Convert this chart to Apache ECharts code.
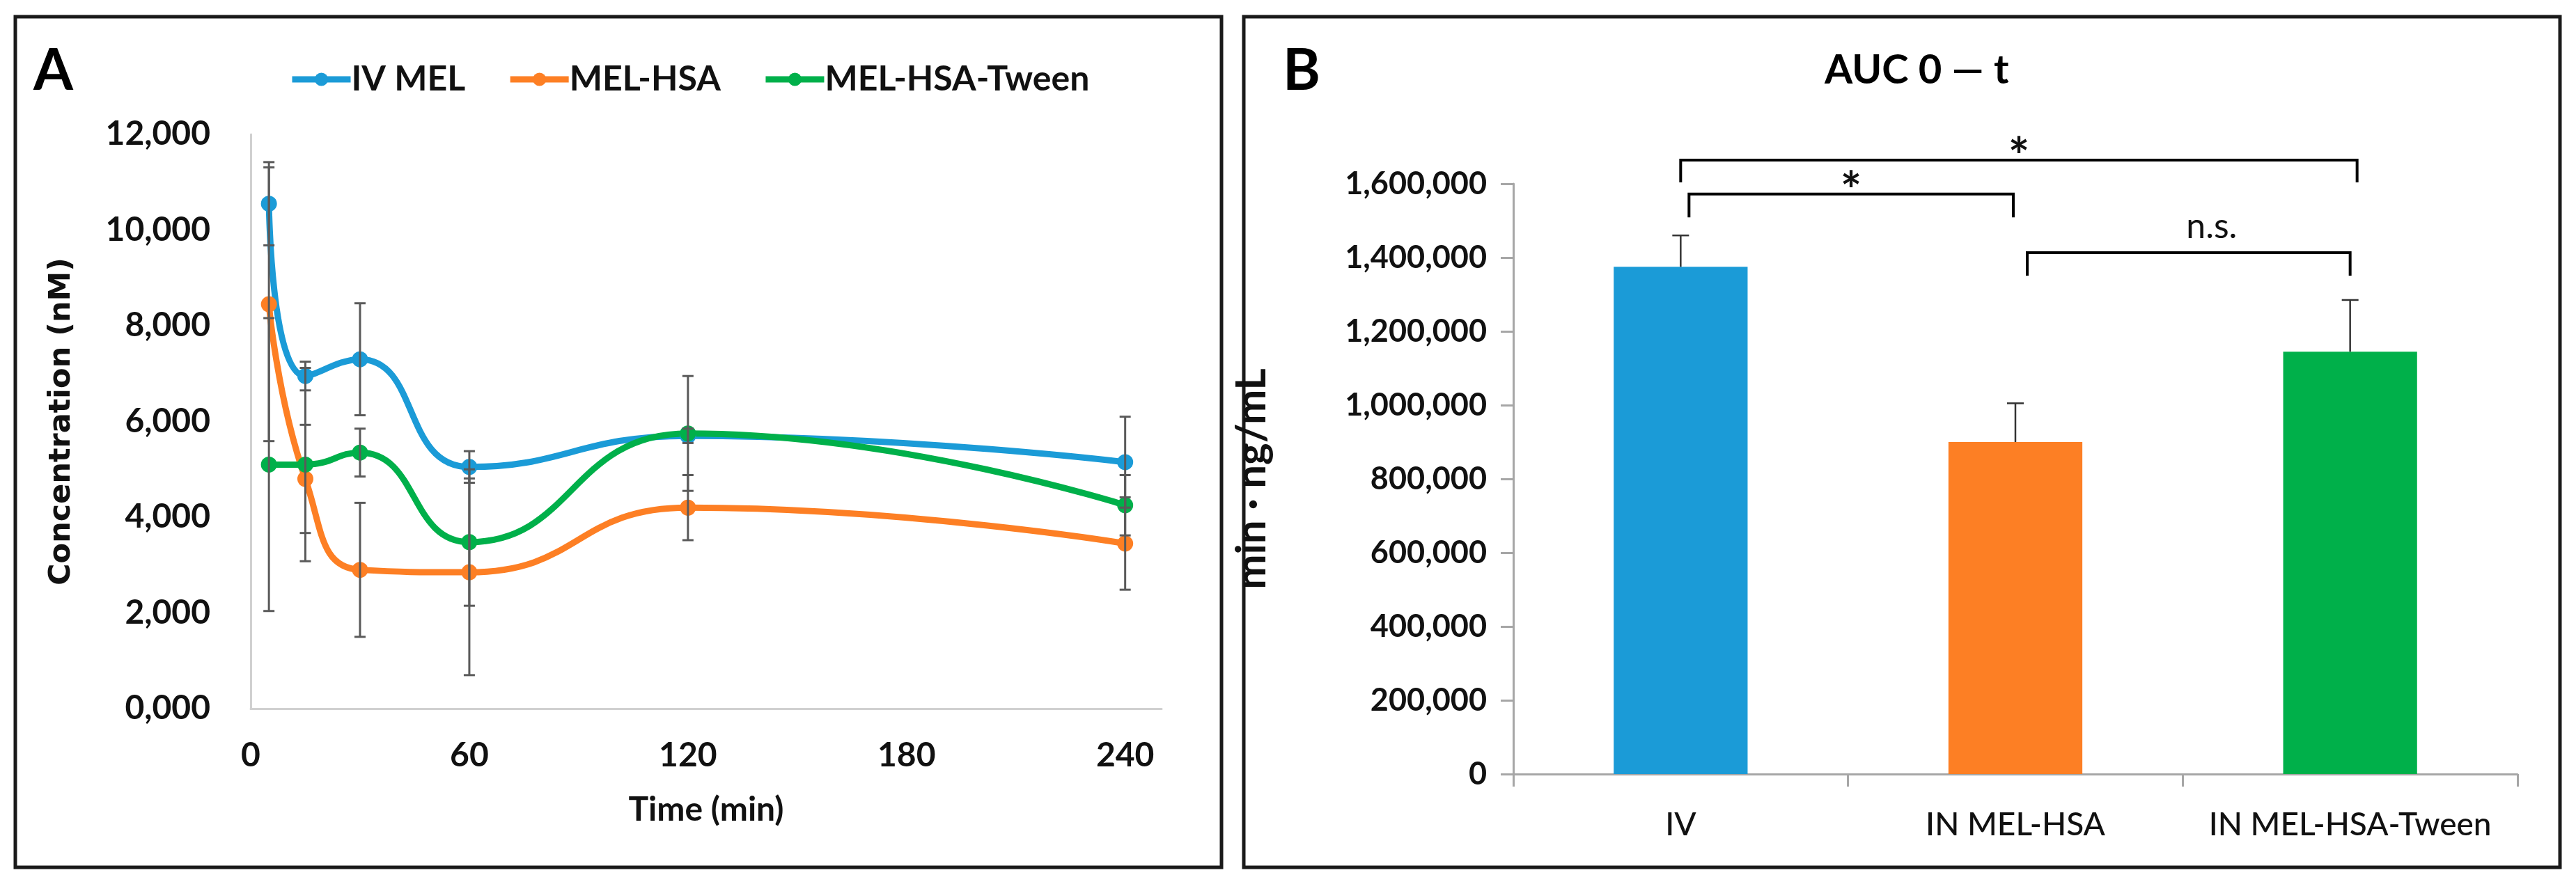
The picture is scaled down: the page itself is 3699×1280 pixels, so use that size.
<!DOCTYPE html>
<html>
<head>
<meta charset="utf-8">
<script src="https://cdn.jsdelivr.net/npm/echarts@6/dist/echarts.min.js"></script>
<style>
html,body{margin:0;padding:0;background:#fff;}
#chart{width:3699px;height:1280px;}
</style>
</head>
<body>
<div id="chart"></div>
<script>
// ---------- Panel A data ----------
const timeMin = [5, 15, 30, 60, 120, 240];
const seriesNames = ['IV MEL', 'MEL-HSA', 'MEL-HSA-Tween'];
const ivMel = [10550, 6950, 7300, 5050, 5700, 5150];
const ivMelErr = [870, 300, 1170, 330, 150, 950];
const melHsa = [8450, 4800, 2900, 2850, 4200, 3450];
const melHsaErr = [2860, 1130, 1400, 2150, 680, 965];
const melHsaTween = [5100, 5100, 5350, 3480, 5750, 4250];
const melHsaTweenErr = [3060, 2020, 500, 1330, 1200, 630];
const timeTicks = [0, 60, 120, 180, 240];
const concTicks = [0, 2000, 4000, 6000, 8000, 10000, 12000];

// ---------- Panel B data ----------
const aucCategories = ['IV', 'IN MEL-HSA', 'IN MEL-HSA-Tween'];
const aucMean = [1375000, 900000, 1145000];
const aucErr = [85000, 105000, 140000];
const aucTicks = [0, 200000, 400000, 600000, 800000, 1000000, 1200000, 1400000, 1600000];
// significance brackets: from category, to category, bar height, leg drop, label
const bracketFrom = [0, 0, 1];
const bracketTo = [2, 1, 2];
const bracketTop = [1664000, 1572000, 1413000];
const bracketDrop = [60000, 63000, 62000];
const bracketLabel = ['*', '*', 'n.s.'];

const colors = ['#1b9bd7', '#fd7f24', '#00b04a'];
const FONT = 'Lato';

const chart = echarts.init(document.getElementById('chart'), null, {renderer: 'canvas'});

const lineData = [ivMel, melHsa, melHsaTween];
const errData = [ivMelErr, melHsaErr, melHsaTweenErr];

const series = [];
lineData.forEach((vals, si) => {
  series.push({
    name: seriesNames[si],
    type: 'line',
    xAxisIndex: 0, yAxisIndex: 0,
    smooth: 0.5,
    symbol: 'circle',
    symbolSize: 23,
    lineStyle: {width: 9, color: colors[si]},
    itemStyle: {color: colors[si]},
    data: timeMin.map((t, i) => [t, vals[i]]),
    z: 3
  });
});
// error bars for panel A
lineData.forEach((vals, si) => {
  series.push({
    type: 'custom',
    xAxisIndex: 0, yAxisIndex: 0,
    z: 5,
    silent: true,
    data: timeMin.map((t, i) => [t, vals[i] - errData[si][i], vals[i] + errData[si][i]]),
    encode: {x: 0, y: [1, 2]},
    renderItem: function (params, api) {
      const x = api.value(0);
      const lo = api.coord([x, api.value(1)]);
      const hi = api.coord([x, api.value(2)]);
      const hw = 8;
      const st = {stroke: '#5a5a5a', lineWidth: 3};
      return {type: 'group', children: [
        {type: 'line', shape: {x1: lo[0], y1: lo[1], x2: hi[0], y2: hi[1]}, style: st},
        {type: 'line', shape: {x1: hi[0] - hw, y1: hi[1], x2: hi[0] + hw, y2: hi[1]}, style: st},
        {type: 'line', shape: {x1: lo[0] - hw, y1: lo[1], x2: lo[0] + hw, y2: lo[1]}, style: st}
      ]};
    }
  });
});
// bars panel B
series.push({
  type: 'bar',
  xAxisIndex: 1, yAxisIndex: 1,
  barWidth: '40%',
  data: aucMean.map((v, i) => ({value: v, itemStyle: {color: colors[i]}}))
});
// error bars panel B (plus side)
series.push({
  type: 'custom',
  xAxisIndex: 1, yAxisIndex: 1,
  z: 5, silent: true,
  data: aucMean.map((v, i) => [i, v, v + aucErr[i]]),
  encode: {x: 0, y: [1, 2]},
  renderItem: function (params, api) {
    const i = api.value(0);
    const lo = api.coord([i, api.value(1)]);
    const hi = api.coord([i, api.value(2)]);
    const hw = 12;
    const st = {stroke: '#333', lineWidth: 2.5};
    return {type: 'group', children: [
      {type: 'line', shape: {x1: lo[0], y1: lo[1], x2: hi[0], y2: hi[1]}, style: st},
      {type: 'line', shape: {x1: hi[0] - hw, y1: hi[1], x2: hi[0] + hw, y2: hi[1]}, style: st}
    ]};
  }
});
// significance brackets
series.push({
  type: 'custom',
  xAxisIndex: 1, yAxisIndex: 1,
  z: 6, silent: true,
  data: bracketFrom.map((a, k) => [a, bracketTo[k], bracketTop[k], bracketTop[k] - bracketDrop[k]]),
  encode: {x: [0, 1], y: [2, 3]},
  renderItem: function (params, api) {
    const k = params.dataIndex;
    const a = api.value(0), b = api.value(1);
    const pa = api.coord([a, api.value(2)]);
    const pb = api.coord([b, api.value(2)]);
    const low = api.coord([a, api.value(3)])[1];
    const xa = pa[0] + (k === 1 ? 12 : (k === 2 ? 17 : 0));
    const xb = pb[0] + (k === 0 ? 10 : (k === 1 ? -3 : 0));
    const y = pa[1];
    const st = {stroke: '#000', lineWidth: 4, fill: null};
    const lab = bracketLabel[k];
    const isStar = lab === '*';
    return {type: 'group', children: [
      {type: 'polyline', shape: {points: [[xa, low], [xa, y], [xb, y], [xb, low]]}, style: st},
      {type: 'text', style: {
        text: lab, x: (xa + xb) / 2 + (isStar ? 0 : 33), y: isStar ? y + 34 : y - 12,
        textAlign: 'center', textVerticalAlign: 'bottom',
        font: (isStar ? 'bold 72px ' : 'normal 50px ') + FONT, fill: '#111'
      }}
    ]};
  }
});

const axisLabelA = {fontFamily: FONT, fontWeight: 'bold', fontSize: 48, color: '#111'};
const fmtThousands = v => v.toLocaleString('en-US');

const option = {
  animation: false,
  backgroundColor: '#fff',
  grid: [
    {left: 360, top: 193, width: 1308, height: 825},
    {left: 2173, top: 264, width: 1442, height: 848}
  ],
  legend: {
    data: seriesNames,
    left: 410, top: 84,
    itemWidth: 84, itemHeight: 24, itemGap: 60,
    lineStyle: {width: 9},
    textStyle: {fontFamily: FONT, fontWeight: 'bold', fontSize: 50, color: '#111', padding: [0, 0, 0, -4]}
  },
  xAxis: [
    {
      type: 'value', gridIndex: 0, min: 0, max: 250, interval: 60,
      name: 'Time (min)', nameLocation: 'middle', nameGap: 122,
      nameTextStyle: {fontFamily: FONT, fontWeight: 'bold', fontSize: 48, color: '#111'},
      axisLine: {show: true, lineStyle: {color: '#d0d0d0', width: 3}},
      axisTick: {show: false},
      splitLine: {show: false},
      axisLabel: Object.assign({margin: 44, showMaxLabel: false,
        formatter: v => (timeTicks.indexOf(v) >= 0 ? String(v) : '')}, axisLabelA)
    },
    {
      type: 'category', gridIndex: 1, data: aucCategories,
      axisLine: {show: true, lineStyle: {color: '#a6a6a6', width: 3}},
      axisTick: {show: true, alignWithLabel: false, length: 18, lineStyle: {color: '#a6a6a6', width: 3}},
      axisLabel: {interval: 0, margin: 50, fontFamily: FONT, fontWeight: 500, fontSize: 46, color: '#111'}
    }
  ],
  yAxis: [
    {
      type: 'value', gridIndex: 0, min: 0, max: 12000, interval: 2000,
      name: 'Concentration (nM)', nameLocation: 'middle', nameGap: 250,
      nameTextStyle: {fontFamily: 'DejaVu Sans', fontWeight: 'bold', fontSize: 43, color: '#111'},
      axisLine: {show: true, lineStyle: {color: '#d0d0d0', width: 3}},
      axisTick: {show: false},
      splitLine: {show: false},
      axisLabel: Object.assign({margin: 58,
        formatter: v => (v === 0 ? '0,000' : fmtThousands(v))}, axisLabelA)
    },
    {
      type: 'value', gridIndex: 1, min: 0, max: 1600000, interval: 200000,
      name: 'min \u00b7 ng/mL', nameLocation: 'middle', nameGap: 345,
      nameTextStyle: {fontFamily: FONT, fontWeight: 'bold', fontSize: 60, color: '#111'},
      axisLine: {show: true, lineStyle: {color: '#a6a6a6', width: 3}},
      axisTick: {show: true, length: 18, lineStyle: {color: '#a6a6a6', width: 3}},
      splitLine: {show: false},
      axisLabel: {margin: 38, fontFamily: FONT, fontWeight: 'bold', fontSize: 45, color: '#111',
        formatter: v => fmtThousands(v)}
    }
  ],
  graphic: [
    {type: 'rect', shape: {x: 22, y: 24, width: 1732, height: 1222}, style: {fill: null, stroke: '#1a1a1a', lineWidth: 5}},
    {type: 'rect', shape: {x: 1786, y: 24, width: 1890, height: 1222}, style: {fill: null, stroke: '#1a1a1a', lineWidth: 5}},
    {type: 'text', left: 48, top: 62, style: {text: 'A', font: 'bold 82px ' + FONT, fill: '#000'}},
    {type: 'text', left: 1842, top: 62, style: {text: 'B', font: 'bold 82px ' + FONT, fill: '#000'}},
    {type: 'text', left: 2620, top: 72, style: {text: 'AUC 0 \u2014 t', font: 'bold 58px ' + FONT, fill: '#000'}}
  ],
  series: series
};
chart.setOption(option);
</script>
</body>
</html>
